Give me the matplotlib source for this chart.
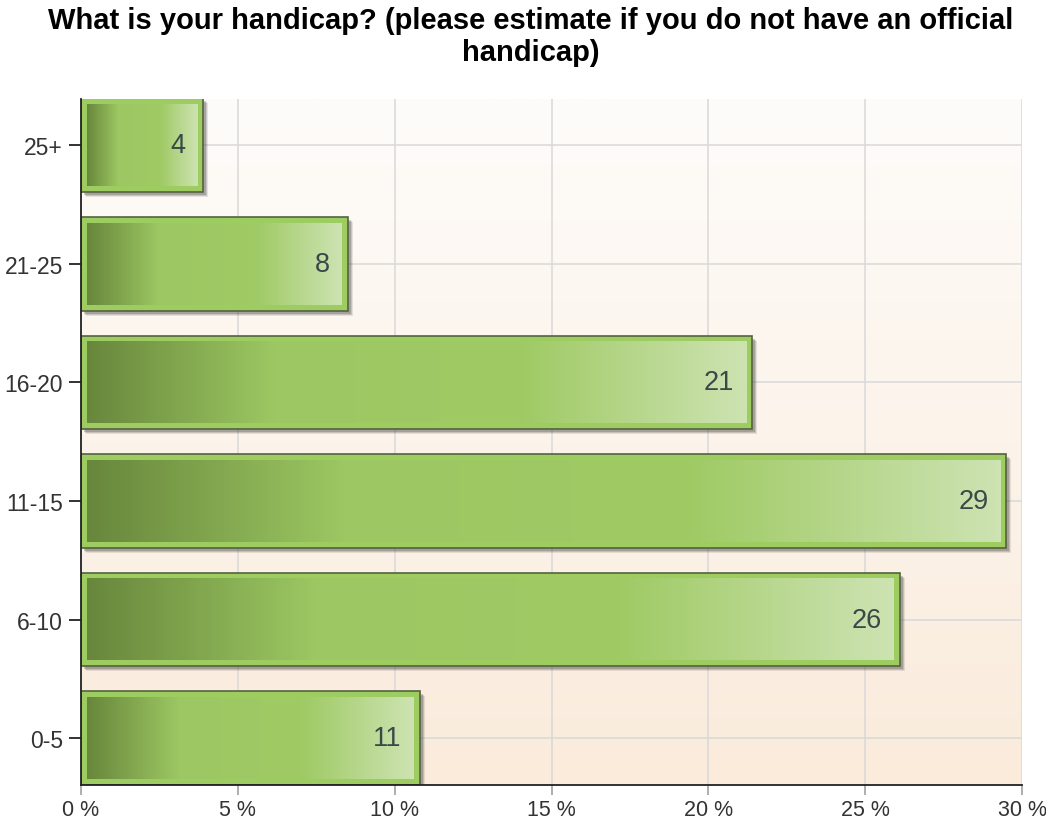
#! /usr/bin/env python3
# -*- coding: utf-8 -*-
import numpy as np
import matplotlib
matplotlib.use('Agg')
import matplotlib.pyplot as plt
from matplotlib.colors import LinearSegmentedColormap
from matplotlib.patches import Rectangle
from matplotlib.transforms import offset_copy

plt.rcParams['font.family'] = ['Liberation Sans', 'DejaVu Sans']

title = 'What is your handicap? (please estimate if you do not have an official\nhandicap)'
categories = ['0-5', '6-10', '11-15', '16-20', '21-25', '25+']
percents = [10.8, 26.1, 29.5, 21.4, 8.5, 3.9]
labels = ['11', '26', '29', '21', '8', '4']
xticks = [0, 5, 10, 15, 20, 25, 30]

W, H, DPI = 1046, 828, 100
fig = plt.figure(figsize=(W / DPI, H / DPI), dpi=DPI)
left, right, top, bottom = 81, 1022, 100, 786
ax = fig.add_axes([left / W, 1 - bottom / H, (right - left) / W, (bottom - top) / H])

xmin, xmax = 0, 30
ymin, ymax = -0.395, 5.39
ax.set_xlim(xmin, xmax)
ax.set_ylim(ymin, ymax)

# background gradient (white at top -> light peach at bottom)
bg = LinearSegmentedColormap.from_list('bg', ['#faebdb', '#fefcfa'])
ax.imshow(np.linspace(0, 1, 256).reshape(-1, 1), cmap=bg, origin='lower',
          extent=(0, 1, 0, 1), transform=ax.transAxes, aspect='auto', zorder=0)

ax.set_axisbelow(True)
ax.grid(True, color='#d9d9d9', linewidth=1.1)

px_x = (xmax - xmin) / (right - left)
px_y = (ymax - ymin) / (bottom - top)
frame = 6
bar_h = 0.79

bar_cmap = LinearSegmentedColormap.from_list(
    'bar', [(0.0, '#68873c'), (0.28, '#9cc762'), (0.66, '#9fca64'), (1.0, '#cde3b2')])
grad = np.linspace(0, 1, 256).reshape(1, -1)

for i, (val, lab) in enumerate(zip(percents, labels)):
    y0 = i - bar_h / 2
    # soft shadow bottom right
    for k, a in [(5, 0.12), (4, 0.18), (3, 0.25)]:
        sh = Rectangle((0, y0), val, bar_h, facecolor='#404040', edgecolor='none', alpha=a,
                       transform=offset_copy(ax.transData, fig, x=k, y=-k, units='dots'), zorder=2)
        ax.add_patch(sh)
    ax.add_patch(Rectangle((0, y0), val, bar_h, facecolor='#9dcc60', edgecolor='#55623f',
                           linewidth=1.2, zorder=3))
    ax.imshow(grad, cmap=bar_cmap, aspect='auto', zorder=4,
              extent=(frame * px_x, val - frame * px_x, y0 + frame * px_y, y0 + bar_h - frame * px_y))
    ax.text(val - 18 * px_x, i, lab, ha='right', va='center', fontsize=19.5,
            color='#3a4848', zorder=5)

ax.set_xlim(xmin, xmax)
ax.set_ylim(ymin, ymax)

ax.set_yticks(range(len(categories)))
ax.set_yticklabels(categories)
ax.set_xticks(xticks)
ax.set_xticklabels(['{0} %'.format(t) for t in xticks])
ax.tick_params(axis='y', length=9, width=1.3, color='#222222', pad=4, labelsize=16.5, labelcolor='#333333')
ax.tick_params(axis='x', length=7, width=1.1, color='#999999', pad=3, labelsize=15.5, labelcolor='#333333')

for s in ['top', 'right']:
    ax.spines[s].set_visible(False)
for s in ['left', 'bottom']:
    ax.spines[s].set_color('#222222')
    ax.spines[s].set_linewidth(1.3)
    ax.spines[s].set_zorder(6)

fig.text(0.507, 0.992, title, ha='center', va='top', fontsize=21, fontweight='bold',
         color='#000000', linespacing=1.2)

fig.savefig('out.png', dpi=DPI)
